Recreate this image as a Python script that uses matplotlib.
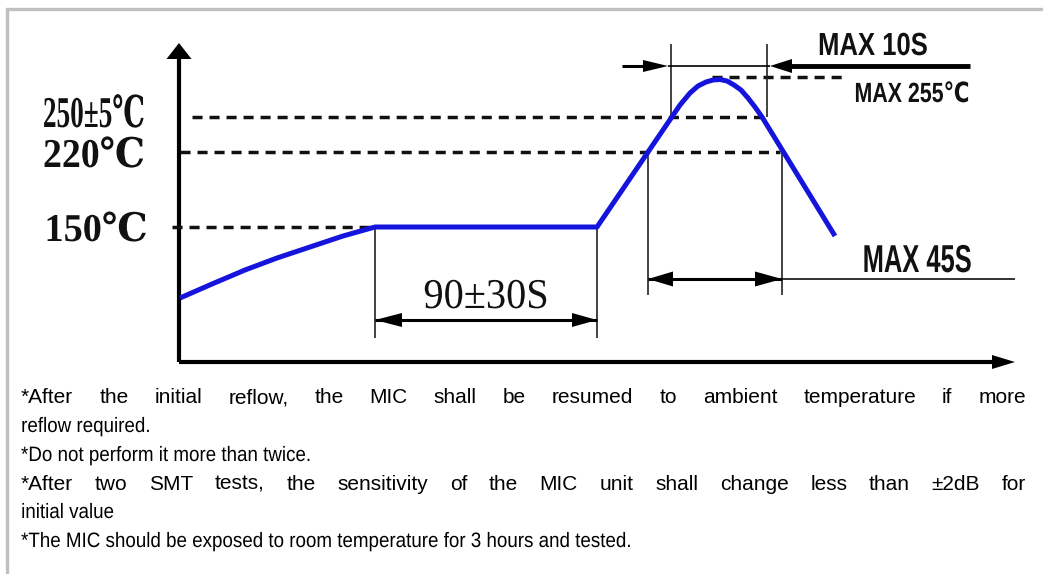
import matplotlib
matplotlib.use("Agg")
import matplotlib.pyplot as plt
from matplotlib.patches import Polygon
from matplotlib.patheffects import AbstractPathEffect
from matplotlib.transforms import Affine2D

# drawing units: 1 unit = 1 px, origin where the two axes cross
profile_time = [1, 33, 66, 98, 131, 164, 196, 418, 501, 511, 519, 527, 534, 541, 548, 555, 562, 569, 576, 583, 656]
profile_temp = [64, 78, 92, 104, 115, 126, 135, 135, 257, 269, 276, 280, 282, 282.5, 281, 277, 272, 264, 255, 245, 126]

level_labels = ["250±5℃", "220℃", "150℃"]
level_values = [245, 210, 135]
level_starts = [13, 1, -7]
level_ends = [586, 601, 196]

peak_label = "MAX 255℃"
peak_value = 285
peak_span = [533, 664]

soak_label = "90±30S"
soak_span = [196, 418]
liquidus_label = "MAX 45S"
liquidus_span = [469, 603]
peak_window_label = "MAX 10S"
peak_window = [492, 588]

notes = [
    "*After the initial reflow, the MIC shall be resumed to ambient temperature if more",
    "reflow required.",
    "*Do not perform it more than twice.",
    "*After two SMT tests, the sensitivity of the MIC unit shall change less than ±2dB for",
    "initial value",
    "*The MIC should be exposed to room temperature for 3 hours and tested.",
]
notes_justified = [True, False, False, True, False, False]

SANS = ["Liberation Sans", "DejaVu Sans"]
SERIF = ["Liberation Serif", "DejaVu Serif"]
BLUE = "#1414dc"
INK = "#111111"


class Squeeze(AbstractPathEffect):
    """Narrow the glyphs horizontally (the sheet uses condensed faces)."""

    def __init__(self, sx, anchor="center"):
        super().__init__()
        self.sx = sx
        self.anchor = anchor

    def draw_path(self, renderer, gc, tpath, affine, rgbFace=None):
        ext = tpath.get_extents(affine)
        cx = ext.x0 if self.anchor == "left" else (ext.x0 + ext.x1) / 2
        tr = affine + Affine2D().translate(-cx, 0).scale(self.sx, 1).translate(cx, 0)
        renderer.draw_path(gc, tpath, tr, rgbFace)


W, H = 1043, 574
fig = plt.figure(figsize=(W / 100, H / 100), dpi=100)
renderer = fig.canvas.get_renderer()

# page layer in pixels
bg = fig.add_axes([0, 0, 1, 1])
bg.set_xlim(0, W)
bg.set_ylim(H, 0)
bg.set_axis_off()
bg.plot([6.5, 6.5, W], [H, 8.5, 8.5], color="#c0c0c0", lw=2.4, solid_joinstyle="miter")

# chart layer
ox, oy, cw, ch = 179, 362, 836, 319
ax = fig.add_axes([ox / W, (H - oy) / H, cw / W, ch / H])
ax.set_xlim(0, cw)
ax.set_ylim(0, ch)
ax.set_axis_off()


def head(tip, d, length=25, half=7):
    x, y = tip
    dx, dy = d
    bx, by = x - dx * length, y - dy * length
    px, py = -dy * half, dx * half
    ax.add_patch(Polygon([(x, y), (bx + px, by + py), (bx - px, by - py)],
                         closed=True, color="black", lw=0, clip_on=False, zorder=4))


def line(xs, ys, lw=1.2, color="#222222", **kw):
    ax.plot(xs, ys, color=color, lw=lw, clip_on=False, solid_capstyle="butt", **kw)


def label(x, y, s, width, height, family, cap, weight="bold"):
    size = height / cap * 0.72
    t = ax.text(x, y, s, ha="center", va="baseline", fontsize=size, family=family,
                weight=weight, clip_on=False, color=INK)
    w = t.get_window_extent(renderer).width
    if w > width:
        t.set_path_effects([Squeeze(width / w)])
    return t


# axes with arrow heads
line([0, 0], [0, 305], lw=3, color="black")
head((0, 319), (0, 1), length=16, half=12.5)
line([0, 815], [0, 0], lw=3, color="black")
head((836, 0), (1, 0), length=23, half=7)

# temperature levels
dash = (0, (2.9, 2.0))
for v, a, b in zip(level_values, level_starts, level_ends):
    line([a, b], [v, v], lw=2.5, color=INK, linestyle=dash)
line(peak_span, [peak_value, peak_value], lw=2.5, color=INK, linestyle=dash)

# profile
ax.plot(profile_time, profile_temp, color=BLUE, lw=3.6, clip_on=False,
        solid_joinstyle="round", solid_capstyle="butt", zorder=3)

# soak time 90±30S
for t in soak_span:
    line([t, t], [135, 24])
line(soak_span, [42, 42], lw=2.2, color="black")
head((soak_span[0], 42), (-1, 0), length=27, half=7)
head((soak_span[1], 42), (1, 0), length=25, half=7)
label(sum(soak_span) / 2, 54, soak_label, 125, 28, SERIF, 0.66, weight="normal")

# time above liquidus MAX 45S
for t in liquidus_span:
    line([t, t], [210, 67])
line(liquidus_span, [83, 83], lw=2.2, color="black")
line([liquidus_span[1], cw], [83, 83], lw=1.2, color=INK)
head((liquidus_span[0], 83), (-1, 0), length=25, half=7.5)
head((liquidus_span[1], 83), (1, 0), length=27, half=7.5)
label(738, 90, liquidus_label, 109, 28, SANS, 0.72)

# time near peak MAX 10S
for t in peak_window:
    line([t, t], [245, 318])
line([443, 470], [296, 296], lw=2.2, color="black")
head((peak_window[0] - 3, 296), (1, 0), length=25, half=6)
line([peak_window[0] - 3, peak_window[1] + 3], [296, 296], lw=1.2, color="black")
head((peak_window[1] + 3, 296), (-1, 0), length=22, half=7)
line([peak_window[1] + 22, 791], [296, 296], lw=3.5, color="black")
label(694, 307, peak_window_label, 110, 23, SANS, 0.72)
label(733, 260, peak_label, 115, 20, SANS, 0.72)

# level labels left of the axis
label(-85, 235, level_labels[0], 102, 29, SERIF, 0.66)
label(-85, 195, level_labels[1], 102, 27, SERIF, 0.66)
label(-83, 121, level_labels[2], 103, 26, SERIF, 0.66)

# footnotes: ragged lines narrowed so the last one ends where the sheet's does,
# justified lines keep full-width glyphs like the original
left, right = 21, 1026
fs = 15
probe = bg.text(left, 0, notes[-1], fontsize=fs, family=SANS)
sx = (633 - left) / probe.get_window_extent(renderer).width
probe.remove()
baselines = [403, 432, 461, 490, 518, 547]
for s, y, just in zip(notes, baselines, notes_justified):
    if not just:
        bg.text(left, y, s, fontsize=fs, family=SANS, va="baseline", color="black",
                path_effects=[Squeeze(sx, anchor="left")])
        continue
    words = s.split(" ")
    texts = [bg.text(0, y, w, fontsize=fs, family=SANS, va="baseline", ha="left",
                     color="black") for w in words]
    widths = [t.get_window_extent(renderer).width for t in texts]
    gap = (right - left - sum(widths)) / (len(words) - 1)
    x = left
    for t, w in zip(texts, widths):
        t.set_x(x)
        x += w + gap

fig.savefig("out.png", dpi=100, facecolor="white")
